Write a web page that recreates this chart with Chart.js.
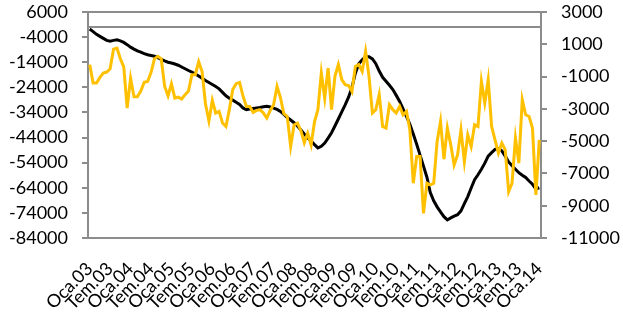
<!DOCTYPE html>
<html><head><meta charset="utf-8">
<script src="https://cdn.jsdelivr.net/npm/chart.js@4/dist/chart.umd.min.js"></script>
<style>html,body{margin:0;padding:0;background:#fff;}canvas{display:block;}</style>
</head><body>
<canvas id="c" width="623" height="320"></canvas>
<script>
const monthNames = ["Oca","Şub","Mar","Nis","May","Haz","Tem","Ağu","Eyl","Eki","Kas","Ara"];
const years = ["03","04","05","06","07","08","09","10","11","12","13","14"];
const leftTicks = [6000,-4000,-14000,-24000,-34000,-44000,-54000,-64000,-74000,-84000];
const rightTicks = [3000,1000,-1000,-3000,-5000,-7000,-9000,-11000];

// black series, left axis (monthly, Oca.03 .. Oca.14)
const blackSeries = [
-800,-1800,-2900,-3700,-4500,-5300,-5600,-5300,-5100,-5500,-6100,-7000,
-8000,-8800,-9500,-10000,-10600,-11000,-11300,-11600,-12200,-12900,-13500,-14000,
-14300,-14700,-15200,-15900,-16600,-17300,-17900,-18700,-19500,-20400,-21300,-22100,
-22900,-23700,-24600,-26000,-27400,-28300,-29100,-29900,-30800,-32200,-32900,-32600,
-32400,-32200,-32000,-31700,-31500,-31800,-32300,-32800,-33600,-34800,-36000,-37000,
-38100,-39400,-41000,-42600,-44100,-45400,-46800,-48100,-47500,-46200,-44200,-42100,
-39400,-36600,-33800,-31000,-27900,-24000,-18400,-14600,-13000,-11800,-11800,-12700,
-14600,-17500,-20000,-21600,-23200,-24900,-27200,-29600,-32600,-35600,-38700,-42600,
-46700,-51000,-55400,-59800,-65900,-69200,-71600,-73600,-75500,-76800,-76000,-75300,
-74700,-73200,-70300,-67500,-64100,-60800,-58800,-56600,-54200,-51400,-50000,-48700,
-48400,-49300,-51400,-53700,-55200,-56600,-58000,-59000,-59900,-61300,-62600,-64500,
-64000];

// yellow series, right axis
const yellowSeries = [
-260,-1400,-1400,-1050,-780,-720,-520,700,760,100,-400,-2950,
-1100,-2250,-2250,-1900,-1350,-1300,-750,100,250,100,-1600,-2190,
-1450,-2330,-2270,-2390,-2120,-1900,-880,-880,-80,-700,-2700,-3750,
-2470,-3260,-3160,-3880,-4090,-3050,-1800,-1440,-1360,-2200,-2850,-2850,
-3220,-3100,-3050,-3260,-3570,-3100,-2750,-1610,-2300,-3300,-3470,-5330,
-4000,-3880,-4350,-5100,-4500,-5230,-3800,-3050,-780,-2330,-470,-3050,
-990,-260,-1190,-1500,-1550,-1920,-370,-260,-680,570,-990,-3260,
-3050,-2120,-4090,-4190,-2740,-3050,-3260,-2850,-3370,-3160,-4300,-7610,
-5950,-5950,-9470,-7610,-7710,-7610,-5020,-3780,-6120,-4190,-5230,-6470,
-5850,-4300,-6270,-4610,-5330,-3990,-4090,-1300,-2640,-1190,-4090,-4920,
-5740,-5120,-5540,-8130,-7610,-4810,-6360,-2430,-3370,-3470,-4190,-8330,
-4920];

const categories = [];
for (const y of years) for (const m of monthNames) categories.push(m + "." + y);
categories.length = blackSeries.length;

const AXIS = "#8c8c8c";
const FONT = {family: "Lato", size: 18};

const linesPlugin = {
  id: "lines",
  beforeDatasetsDraw(chart) {
    const ctx = chart.ctx, a = chart.chartArea, yl = chart.scales.yL;
    ctx.save();
    ctx.strokeStyle = AXIS; ctx.lineWidth = 2;
    ctx.beginPath();
    ctx.moveTo(a.left, a.top); ctx.lineTo(a.right, a.top);
    const z = yl.getPixelForValue(0);
    ctx.moveTo(a.left, z); ctx.lineTo(a.right, z);
    ctx.stroke();
    ctx.restore();
  }
};

const fitY = w => s => { s.width = w; s.paddingTop = 0; s.paddingBottom = 0; };

new Chart(document.getElementById("c"), {
  type: "line",
  data: {
    labels: categories,
    datasets: [
      {data: yellowSeries, yAxisID: "yR", borderColor: "#FFC000", borderWidth: 3, pointRadius: 0, tension: 0, order: 0},
      {data: blackSeries, yAxisID: "yL", borderColor: "#000000", borderWidth: 3, pointRadius: 0, tension: 0, order: 1}
    ]
  },
  options: {
    responsive: false, animation: false, devicePixelRatio: 1,
    layout: {padding: {top: 12, left: 0, right: 0, bottom: 0}},
    plugins: {legend: {display: false}, tooltip: {enabled: false}},
    scales: {
      x: {
        offset: true,
        grid: {display: false, drawTicks: false},
        border: {display: true, color: AXIS, width: 2},
        ticks: {
          autoSkip: false, minRotation: 45, maxRotation: 45, padding: 20,
          color: "#000", font: FONT,
          callback: (v, i) => (i % 6 === 0 ? categories[i] : "")
        },
        afterFit: s => { s.height = 82; s.paddingLeft = 0; s.paddingRight = 0; }
      },
      yL: {
        position: "left", min: -84000, max: 6000,
        afterBuildTicks: s => { s.ticks = leftTicks.map(v => ({value: v})); },
        grid: {drawOnChartArea: false, drawTicks: true, tickLength: 6, color: AXIS, lineWidth: 2},
        border: {display: true, color: AXIS, width: 2},
        ticks: {color: "#000", font: FONT, padding: 14, autoSkip: false, callback: v => String(v)},
        afterFit: fitY(88)
      },
      yR: {
        position: "right", min: -11000, max: 3000,
        afterBuildTicks: s => { s.ticks = rightTicks.map(v => ({value: v})); },
        grid: {drawOnChartArea: false, drawTicks: true, tickLength: 6, color: AXIS, lineWidth: 2},
        border: {display: true, color: AXIS, width: 2},
        ticks: {color: "#000", font: FONT, padding: 14, autoSkip: false, callback: v => String(v)},
        afterFit: fitY(82)
      }
    }
  },
  plugins: [linesPlugin]
});
</script>
</body></html>
